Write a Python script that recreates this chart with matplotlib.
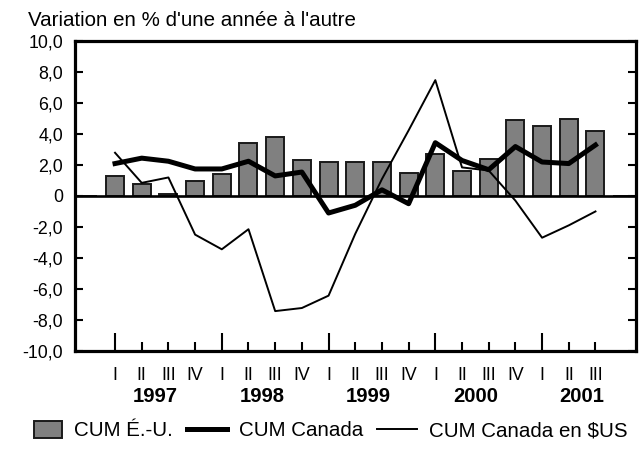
import matplotlib
matplotlib.use("Agg")
import matplotlib.pyplot as plt
import matplotlib.patches as mpatches
from matplotlib.legend_handler import HandlerPatch
from matplotlib.lines import Line2D
import matplotlib.transforms as mtransforms

plt.rcParams['font.family'] = ['Liberation Sans', 'DejaVu Sans']

# quarter positions: -1 = 1996 IV ... 19 = 2001 IV
pos_bars = list(range(-1, 20))
pos_lines = list(range(0, 19))
quarter_labels = ["I", "II", "III", "IV"] * 4 + ["I", "II", "III"]
years = ["1997", "1998", "1999", "2000", "2001"]

cum_us = [0.0, 1.3, 0.8, 0.1, 1.0, 1.4, 3.4, 3.8, 2.3, 2.2, 2.2, 2.2, 1.5,
          2.7, 1.6, 2.4, 4.9, 4.5, 5.0, 4.2, 0.0]
cum_ca = [2.1, 2.45, 2.25, 1.75, 1.75, 2.25, 1.3, 1.55, -1.1, -0.6, 0.4,
          -0.5, 3.45, 2.3, 1.7, 3.2, 2.2, 2.1, 3.3]
cum_ca_usd = [2.8, 0.85, 1.2, -2.5, -3.45, -2.15, -7.45, -7.25, -6.45, -2.45,
              1.1, 4.25, 7.5, 1.85, 1.65, -0.3, -2.7, -1.9, -1.0]

yticks = [-10, -8, -6, -4, -2, 0, 2, 4, 6, 8, 10]
ytick_labels = ["-10,0", "-8,0", "-6,0", "-4,0", "-2,0", "0",
                "2,0", "4,0", "6,0", "8,0", "10,0"]

fig = plt.figure(figsize=(6.44, 4.63), dpi=100)
ax = fig.add_axes([75 / 644, 1 - 350.5 / 463, 560.5 / 644, 309 / 463])

ax.bar(pos_bars, cum_us, width=0.675, color="#808080", edgecolor="#1a1a1a",
       linewidth=1.4, zorder=2)
ax.axhline(0, color="black", lw=1.9, zorder=3)
ax.plot(pos_lines, cum_ca, color="black", lw=3.6, zorder=4,
        solid_joinstyle="round")
ax.plot(pos_lines, cum_ca_usd, color="black", lw=1.4, zorder=4)

ax.set_xlim(-1.5, 19.5)
ax.set_ylim(-10, 10)

for s in ax.spines.values():
    s.set_linewidth(2.3)

ax.set_yticks(yticks)
ax.set_yticklabels(ytick_labels)
ax.tick_params(axis="y", direction="in", length=6, width=1.5, labelsize=12.8,
               pad=8.5, right=True)

major = [i for i in pos_lines if i % 4 == 0]
minor = [i for i in pos_lines if i % 4 != 0]
ax.set_xticks(major)
ax.set_xticklabels([quarter_labels[i] for i in major])
ax.set_xticks(minor, minor=True)
ax.set_xticklabels([quarter_labels[i] for i in minor], minor=True)
ax.tick_params(axis="x", which="major", direction="in", length=13, width=1.5,
               labelsize=12.8, pad=12)
ax.tick_params(axis="x", which="minor", direction="in", length=6.5, width=1.5,
               labelsize=12.8, pad=12)

trans = mtransforms.blended_transform_factory(ax.transData, ax.transAxes)
for k, yr in enumerate(years):
    ax.text(4 * k + 1.5, -0.1495, yr, transform=trans, ha="center",
            va="center", fontsize=14.6, fontweight="bold")

fig.text(28 / 644, 1 - 20 / 463, "Variation en % d'une année à l'autre",
         fontsize=14.8, ha="left", va="center")


def box(legend, orig_handle, xdescent, ydescent, width, height, fontsize):
    w, h = 20.2, 12.2
    return mpatches.Rectangle((-xdescent + width - w, -ydescent + (height - h) / 2),
                              w, h)


handles = [mpatches.Patch(facecolor="#808080", edgecolor="#1a1a1a", linewidth=1.4),
           Line2D([], [], color="black", lw=3.6),
           Line2D([], [], color="black", lw=1.4)]
labels = ["CUM É.-U.", "CUM Canada", "CUM Canada en $US"]
fig.legend(handles, labels, loc="center", bbox_to_anchor=(0.505, 1 - 431 / 463),
           ncol=3, frameon=False, fontsize=14.8, handlelength=1.9,
           handletextpad=0.6, columnspacing=0.7,
           handler_map={mpatches.Patch: HandlerPatch(patch_func=box)})

fig.savefig("out.png", dpi=100)
